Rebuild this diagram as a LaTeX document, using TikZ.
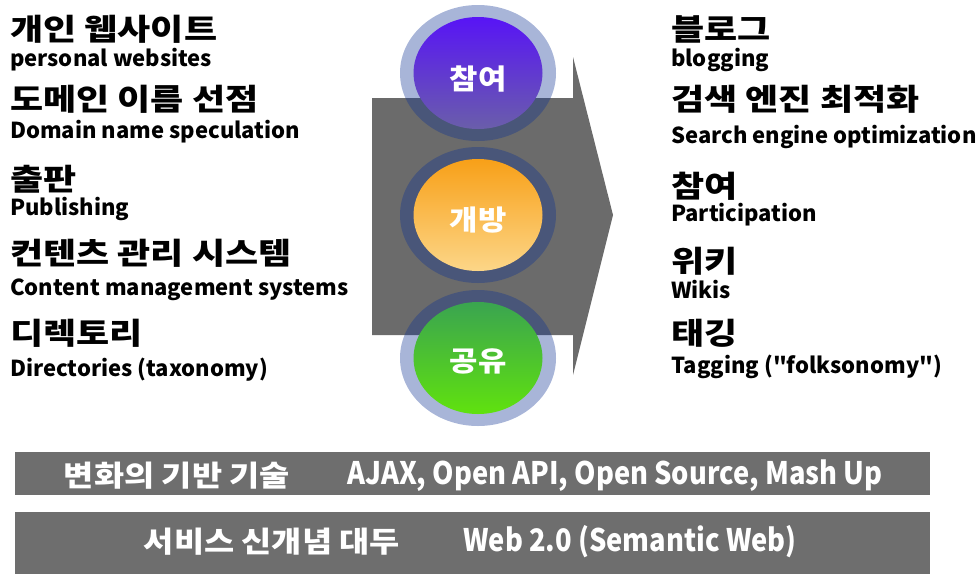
\documentclass[tikz,border=0pt]{standalone}
\usepackage{fontspec}
\usetikzlibrary{shapes.geometric}
\newfontfamily\kr{Noto Sans CJK KR}
\newfontfamily\krw{Noto Sans CJK KR}[FakeStretch=1.2]
\newfontfamily\krl{Noto Sans CJK KR}[FakeStretch=1.1]
\newfontfamily\krbk{Noto Sans CJK KR}[FakeStretch=1.13]
\newfontfamily\krbe{Noto Sans CJK KR}[FakeStretch=0.88]
\definecolor{arrowgray}{HTML}{6B6B6B}
\definecolor{bargray}{HTML}{6E6E6E}
\definecolor{ringblue}{RGB}{14,50,147}
\tikzset{
  kor/.style={anchor=west, inner sep=0pt, font=\krw\bfseries\fontsize{30}{30}\selectfont},
  eng/.style={anchor=west, inner sep=0pt, font=\kr\bfseries\fontsize{22}{22}\selectfont},
  ring/.style={ellipse, inner sep=0pt, minimum width=156pt, minimum height=136pt, fill=ringblue, fill opacity=0.36},
  disc/.style={ellipse, inner sep=0pt, minimum width=129pt, minimum height=112pt, shading=axis, shading angle=0},
  disclabel/.style={inner sep=0pt, text=white, font=\krl\bfseries\fontsize{28}{28}\selectfont},
  bar/.style={fill=bargray, inner sep=0pt, minimum width=915pt},
  barkor/.style={inner sep=0pt, text=white, font=\krbk\bfseries\fontsize{29}{29}\selectfont},
  bareng/.style={inner sep=0pt, text=white, font=\krbe\bfseries\fontsize{31}{31}\selectfont}
}
\begin{document}
\begin{tikzpicture}[x=1pt, y=-1pt]
\useasboundingbox (0,0) rectangle (977,574);
% big arrow
\fill[arrowgray] (372,98) -- (573,98) -- (573,57) -- (613,215) -- (573,375) -- (573,335) -- (372,335) -- cycle;
% rings and discs
\node[ring] (r1) at (478,73) {};
\node[ring] (r2) at (478,215) {};
\node[ring] (r3) at (478,358) {};
\node[disc, top color={rgb,255:red,88;green,20;blue,246}, bottom color={rgb,255:red,106;green,94;blue,170}] (d1) at (478,73) {};
\node[disc, top color={rgb,255:red,248;green,160;blue,24}, bottom color={rgb,255:red,252;green,214;blue,136}] (d2) at (478,215) {};
\node[disc, top color={rgb,255:red,58;green,164;blue,80}, bottom color={rgb,255:red,96;green,226;blue,14}] (d3) at (478,358) {};
\node[disclabel] (t1) at (478,79) {참여};
\node[disclabel] (t2) at (478,220) {개방};
\node[disclabel] (t3) at (478,361) {공유};
% left column
\node[kor] (l1k) at (10,29) {개인 웹사이트};
\node[eng] (l1e) at (10,60) {personal websites};
\node[kor] (l2k) at (10,99) {도메인 이름 선점};
\node[eng] (l2e) at (10,132) {Domain name speculation};
\node[kor] (l3k) at (10,179) {출판};
\node[eng] (l3e) at (10,209) {Publishing};
\node[kor] (l4k) at (10,253) {컨텐츠 관리 시스템};
\node[eng] (l4e) at (10,290) {Content management systems};
\node[kor] (l5k) at (10,333) {디렉토리};
\node[eng] (l5e) at (10,370) {Directories (taxonomy)};
% right column
\node[kor] (r1k) at (671,29) {블로그};
\node[eng] (r1e) at (671,60) {blogging};
\node[kor] (r2k) at (671,99) {검색 엔진 최적화};
\node[eng] (r2e) at (671,137) {Search engine optimization};
\node[kor] (r3k) at (671,186) {참여};
\node[eng] (r3e) at (671,215) {Participation};
\node[kor] (r4k) at (671,261) {위키};
\node[eng] (r4e) at (671,290) {Wikis};
\node[kor] (r5k) at (671,333) {태깅};
\node[eng] (r5e) at (671,367) {Tagging ("folksonomy")};
% bottom bars
\node[bar, minimum height=43pt] (b1) at (472.5,473.5) {};
\node[bar, minimum height=62pt] (b2) at (472.5,543) {};
\node[barkor] (b1k) at (177,476) {변화의 기반 기술};
\node[bareng] (b1e) at (615,476) {AJAX, Open API, Open Source, Mash Up};
\node[barkor] (b2k) at (272,542) {서비스 신개념 대두};
\node[bareng] (b2e) at (630,542) {Web 2.0 (Semantic Web)};
\end{tikzpicture}
\end{document}
